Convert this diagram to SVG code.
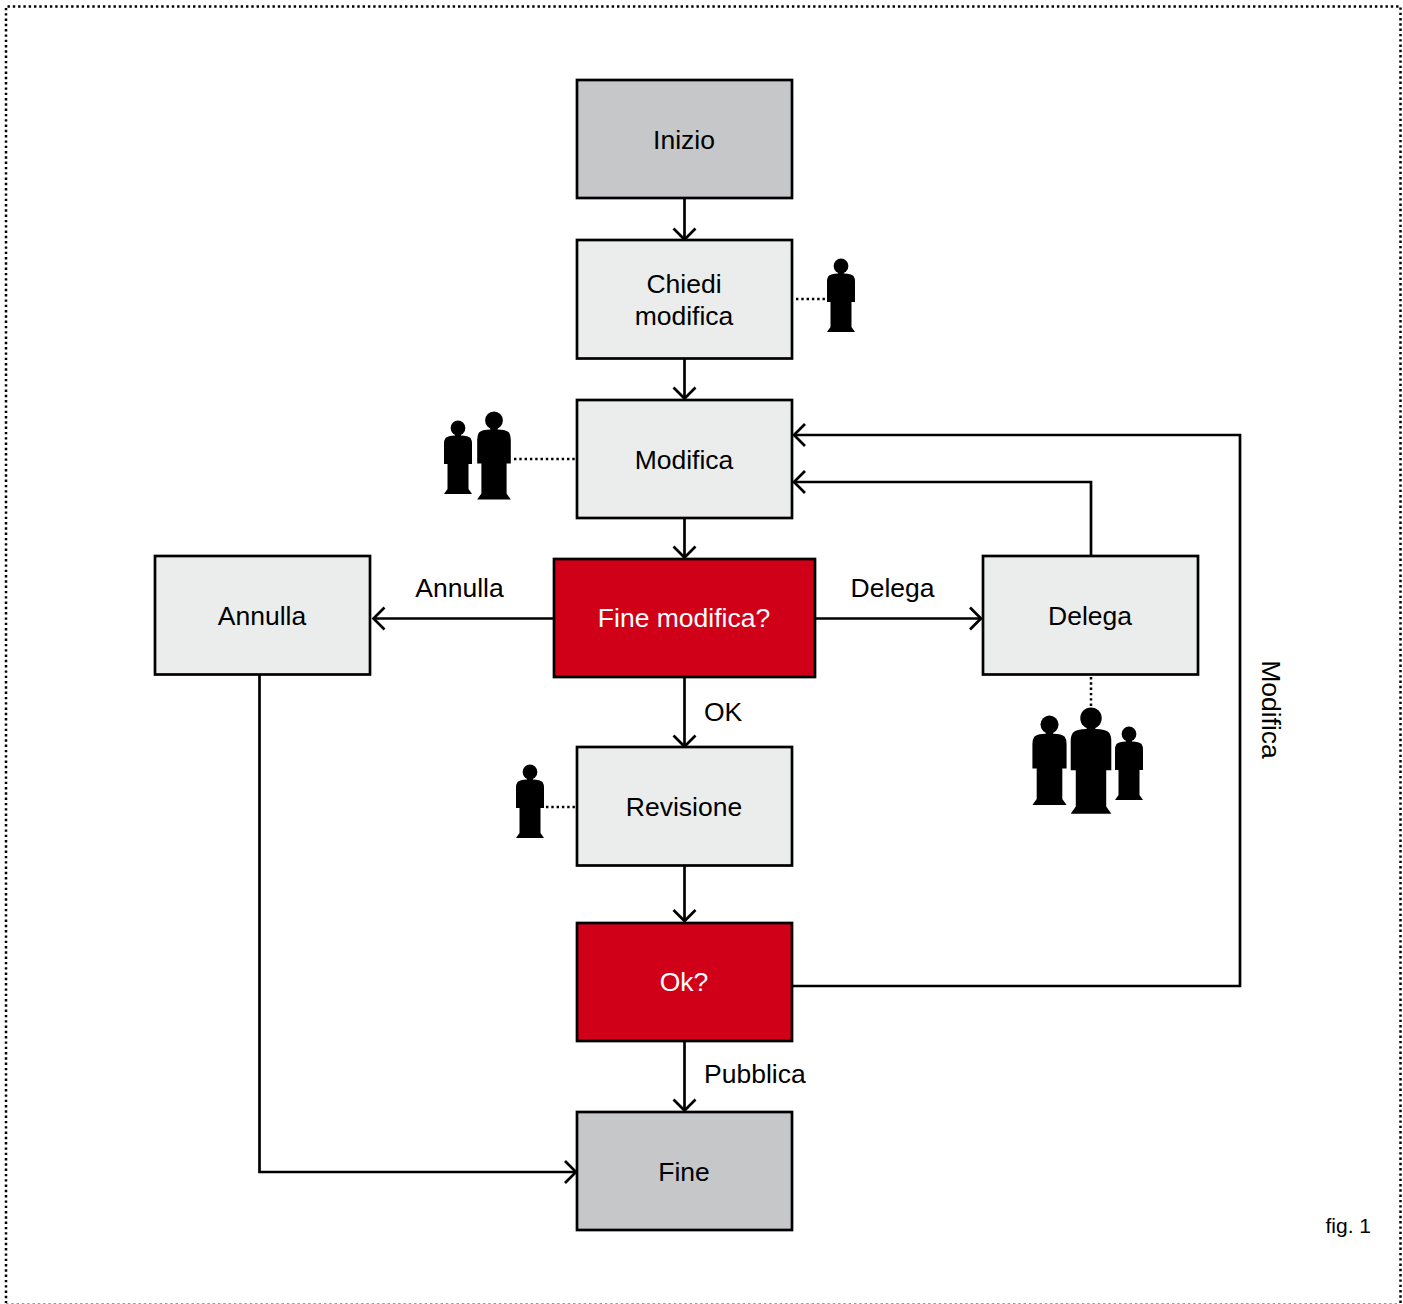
<svg xmlns="http://www.w3.org/2000/svg" width="1403" height="1304" viewBox="0 0 1403 1304">
<style>
.box{stroke:#000;stroke-width:2.7}
.start{fill:#c6c7c9}
.step{fill:#ebedec}
.dec{fill:#d00019}
text{font-family:"Liberation Sans",Arial,sans-serif;font-size:26.5px;fill:#000;text-anchor:middle}
.w{fill:#fff}
.l{text-anchor:start}
.con{fill:none;stroke:#000;stroke-width:2.7}
.dot{fill:none;stroke:#000;stroke-width:2.5;stroke-dasharray:2.4 2.9}
.edge{fill:none;stroke:#999;stroke-width:1;stroke-dasharray:2.4 2.9}
</style>
<defs>
<marker id="arrow" markerUnits="userSpaceOnUse" markerWidth="24" markerHeight="28" refX="20" refY="12" orient="auto" viewBox="0 0 24 24">
<path d="M9 1 L20 12 L9 23" fill="none" stroke="#000" stroke-width="2.7"/>
</marker>
<g id="person">
<circle cx="0" cy="7" r="7.4"/>
<path d="M-3 12 H3 V14.5 Q10 14.5 12.5 17 Q14 19 14 23 V43 H10.5 V68 L14 73 H-14 L-10.5 68 V43 H-14 V23 Q-14 19 -12.5 17 Q-10 14.5 -3 14.5 Z"/>
</g>
</defs>
<g id="frame">
<path class="dot" d="M1400.500 1303V6.500H6V1303"/>
<path class="edge" d="M6 1303.500H1400"/>
</g>
<g id="connectors">
<path class="con" marker-end="url(#arrow)" d="M684.500 199V239.500"/>
<path class="con" marker-end="url(#arrow)" d="M684.500 359V398.500"/>
<path class="con" marker-end="url(#arrow)" d="M684.500 518V557.500"/>
<path class="con" marker-end="url(#arrow)" d="M554 618.500H373.500"/>
<path class="con" marker-end="url(#arrow)" d="M815 618.500H981"/>
<path class="con" marker-end="url(#arrow)" d="M684.500 677V746.500"/>
<path class="con" marker-end="url(#arrow)" d="M684.500 866V921"/>
<path class="con" marker-end="url(#arrow)" d="M684.500 1041V1110.500"/>
<path class="con" marker-end="url(#arrow)" d="M1091 556V482H794"/>
<path class="con" marker-end="url(#arrow)" d="M793 986H1240V435H794"/>
<path class="con" marker-end="url(#arrow)" d="M259.500 675V1172H576"/>
<path class="dot" d="M796 299H827"/>
<path class="dot" d="M514 459H577"/>
<path class="dot" d="M1091 677V708"/>
<path class="dot" d="M546 807H577"/>
</g>
<g id="n-inizio"><rect class="box start" x="577" y="80" width="215" height="118"/><text x="684" y="149">Inizio</text></g>
<g id="n-chiedi"><rect class="box step" x="577" y="240" width="215" height="118.500"/><text x="684" y="293">Chiedi</text><text x="684" y="325">modifica</text></g>
<g id="n-modifica"><rect class="box step" x="577" y="400" width="215" height="118"/><text x="684" y="469">Modifica</text></g>
<g id="n-fine-modifica"><rect class="box dec" x="554" y="559" width="261" height="118"/><text class="w" x="684" y="627">Fine modifica?</text></g>
<g id="n-annulla"><rect class="box step" x="155" y="556" width="215" height="118.500"/><text x="262" y="625">Annulla</text></g>
<g id="n-delega"><rect class="box step" x="983" y="556" width="215" height="118.500"/><text x="1090" y="625">Delega</text></g>
<g id="n-revisione"><rect class="box step" x="577" y="747" width="215" height="118.500"/><text x="684" y="816">Revisione</text></g>
<g id="n-ok"><rect class="box dec" x="577" y="923" width="215" height="118"/><text class="w" x="684" y="991">Ok?</text></g>
<g id="n-fine"><rect class="box start" x="577" y="1112" width="215" height="118"/><text x="684" y="1181">Fine</text></g>
<g id="persons">
<use href="#person" transform="translate(841 259)"/>
<use href="#person" transform="translate(458 421)"/>
<use href="#person" transform="translate(494 412) scale(1.2)"/>
<use href="#person" transform="translate(530 765)"/>
<use href="#person" transform="translate(1049.500 716) scale(1.22)"/>
<use href="#person" transform="translate(1091 708) scale(1.45)"/>
<use href="#person" transform="translate(1129 727)"/>
</g>
<g id="labels">
<text x="459.500" y="597">Annulla</text>
<text x="892.500" y="597">Delega</text>
<text class="l" x="704" y="721">OK</text>
<text class="l" x="704" y="1083">Pubblica</text>
<text transform="translate(1262 709.500) rotate(90)">Modifica</text>
<text class="l" style="font-size:21px" x="1325.500" y="1233">fig. 1</text>
</g>
</svg>
